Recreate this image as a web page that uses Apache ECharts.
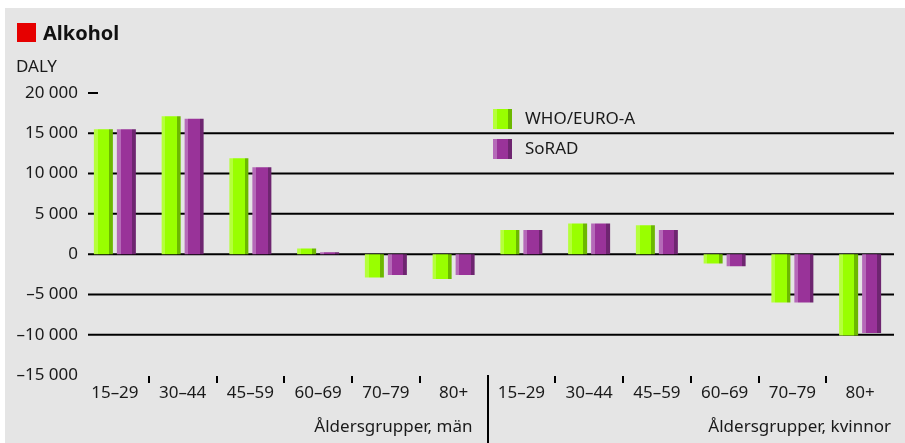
<!DOCTYPE html>
<html>
<head>
<meta charset="utf-8">
<script src="https://cdn.jsdelivr.net/npm/echarts@6/dist/echarts.min.js"></script>
<style>
  html, body { margin: 0; padding: 0; background: #ffffff; }
  #panel { position: absolute; left: 5px; top: 8px; width: 900px; height: 435px; background: #e5e5e5; }
  #chart { position: absolute; left: 0; top: 0; width: 905px; height: 443px; }
</style>
</head>
<body>
<div id="panel"></div>
<div id="chart"></div>
<script>
// Age groups, men first then women
const ageGroups = ['15–29', '30–44', '45–59', '60–69', '70–79', '80+'];
const categories = ageGroups.concat(ageGroups);
const groupNames = ['Åldersgrupper, män', 'Åldersgrupper, kvinnor'];

// DALY per age group
const whoEuroA = [15500, 17100, 11900, 700, -2900, -3100, 3000, 3800, 3600, -1150, -6000, -10100];
const soRad    = [15500, 16800, 10800, 250, -2600, -2600, 3000, 3800, 3000, -1500, -6000, -9800];

// Value axis ticks
const yTicks = [20000, 15000, 10000, 5000, 0, -5000, -10000, -15000];
const gridValues = [15000, 10000, 5000, 0, -5000, -10000];

const FONT = '"Noto Sans", "DejaVu Sans", sans-serif';
const TEXT = '#1a1a1a';

function fmt(v) {
  const a = Math.abs(v);
  const s = String(a).replace(/\B(?=(\d{3})+(?!\d))/g, ' ');
  return (v < 0 ? '–' : '') + s;
}

// Bars get a bevelled look: light left edge, dark right edge
function bevel(light, main, dark) {
  return new echarts.graphic.LinearGradient(0, 0, 1, 0, [
    { offset: 0, color: light }, { offset: 0.2, color: light },
    { offset: 0.2, color: main }, { offset: 0.8, color: main },
    { offset: 0.8, color: dark }, { offset: 1, color: dark }
  ]);
}

const chart = echarts.init(document.getElementById('chart'), null, { renderer: 'canvas' });

chart.setOption({
  animation: false,
  textStyle: { fontFamily: FONT },
  grid: { left: 81, width: 813, top: 93, height: 282 },
  legend: {
    orient: 'vertical',
    left: 493,
    top: 109,
    padding: 0,
    itemWidth: 19,
    itemHeight: 20,
    itemGap: 10,
    icon: 'rect',
    textStyle: { fontFamily: FONT, fontSize: 17, color: TEXT, padding: [0, 0, 0, 8] },
    data: ['WHO/EURO-A', 'SoRAD']
  },
  xAxis: {
    type: 'category',
    data: categories,
    axisLine: { show: false },
    axisTick: { show: false },
    axisLabel: { fontFamily: FONT, fontSize: 17, color: TEXT, margin: 10, interval: 0 }
  },
  yAxis: {
    type: 'value',
    min: yTicks[yTicks.length - 1],
    max: yTicks[0],
    interval: 5000,
    axisLine: { show: false },
    axisTick: { show: false },
    splitLine: { show: false },
    axisLabel: { fontFamily: FONT, fontSize: 17, color: TEXT, margin: 3, formatter: fmt }
  },
  series: [
    {
      name: 'WHO/EURO-A',
      type: 'bar',
      data: whoEuroA,
      barWidth: 19,
      barGap: '21%',
      itemStyle: { color: bevel('#b5ff3c', '#99ff00', '#6cb800') }
    },
    {
      name: 'SoRAD',
      type: 'bar',
      data: soRad,
      barWidth: 19,
      itemStyle: { color: bevel('#b56ab8', '#993399', '#6e2570') }
    }
  ]
});

// Gridlines, ticks, divider and captions placed from the axis scales
const gridRect = chart.getModel().getComponent('grid', 0).coordinateSystem.getRect();
const xLeft = gridRect.x + 7;
const xRight = gridRect.x + gridRect.width;
const yBottom = gridRect.y + gridRect.height;
const catX = categories.map((c, i) => chart.convertToPixel({ xAxisIndex: 0 }, i));
const boundaryX = k => (catX[k - 1] + catX[k]) / 2;

const graphics = [];
gridValues.forEach(v => {
  const y = chart.convertToPixel({ yAxisIndex: 0 }, v);
  graphics.push({ type: 'line', z: 0, shape: { x1: xLeft, y1: y, x2: xRight, y2: y },
    style: { stroke: '#000', lineWidth: 2 } });
});
const yTop = chart.convertToPixel({ yAxisIndex: 0 }, yTicks[0]);
graphics.push({ type: 'line', shape: { x1: xLeft, y1: yTop, x2: xLeft + 10, y2: yTop },
  style: { stroke: '#000', lineWidth: 2 } });

for (let k = 1; k < categories.length; k++) {
  const x = Math.round(boundaryX(k));
  if (k === ageGroups.length) {
    graphics.push({ type: 'line', shape: { x1: x, y1: yBottom, x2: x, y2: 443 },
      style: { stroke: '#000', lineWidth: 2 } });
  } else {
    graphics.push({ type: 'line', shape: { x1: x, y1: yBottom + 1, x2: x, y2: yBottom + 8 },
      style: { stroke: '#000', lineWidth: 2 } });
  }
}

const midX = boundaryX(ageGroups.length);
graphics.push({ type: 'text', x: midX - 15, y: 427,
  style: { text: groupNames[0], font: '17px ' + FONT, fill: TEXT, align: 'right', verticalAlign: 'middle' } });
graphics.push({ type: 'text', x: xRight - 3, y: 427,
  style: { text: groupNames[1], font: '17px ' + FONT, fill: TEXT, align: 'right', verticalAlign: 'middle' } });

// Heading
graphics.push({ type: 'rect', shape: { x: 17, y: 23, width: 19, height: 19 }, style: { fill: '#e60000' } });
graphics.push({ type: 'text', x: 43, y: 34,
  style: { text: 'Alkohol', font: 'bold 20px ' + FONT, fill: '#111', verticalAlign: 'middle' } });
graphics.push({ type: 'text', x: 16, y: 67,
  style: { text: 'DALY', font: '17px ' + FONT, fill: TEXT, verticalAlign: 'middle' } });

chart.setOption({ graphic: graphics });
</script>
</body>
</html>
